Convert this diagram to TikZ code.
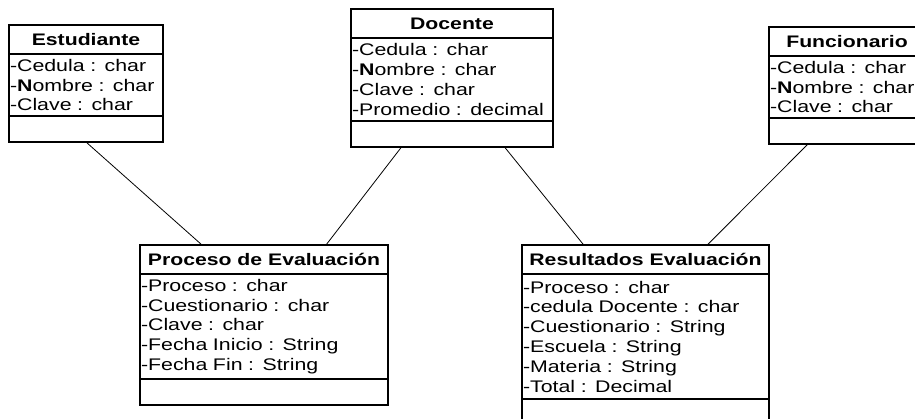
\documentclass[tikz,border=0pt]{standalone}
\usepackage{fontspec}
\setmainfont{Liberation Sans}[FakeStretch=1.27]
\usetikzlibrary{positioning,calc}

\tikzset{
  box/.style={draw, line width=1.3pt, outer sep=0pt, inner sep=1pt},
  classname/.style={box, minimum height=29pt, font=\fontsize{16.7}{19}\selectfont\bfseries},
  attrs/.style={box, align=left, font=\fontsize{16.8}{19.8}\selectfont},
  ops/.style={box, minimum height=26pt},
  link/.style={line width=0.8pt}
}

\begin{document}
\begin{tikzpicture}[x=1pt,y=-1pt]
  \clip (0,0) rectangle (915,418);

  % Estudiante
  \node[classname, minimum width=154pt, anchor=north west] (est) at (9,25) {Estudiante};
  \node[attrs, text width=152pt, minimum height=62pt, below=0pt of est] (est-a)
    {-Cedula : char\\-\textbf{N}ombre : char\\-Clave : char};
  \node[ops, minimum width=154pt, below=0pt of est-a] (est-o) {};

  % Docente
  \node[classname, minimum width=202pt, anchor=north west] (doc) at (351,9) {Docente};
  \node[attrs, text width=200pt, minimum height=83pt, below=0pt of doc] (doc-a)
    {-Cedula : char\\-\textbf{N}ombre : char\\-Clave : char\\-Promedio : decimal};
  \node[ops, minimum width=202pt, below=0pt of doc-a] (doc-o) {};

  % Funcionario
  \node[classname, minimum width=156pt, anchor=north west] (fun) at (769,27) {Funcionario};
  \node[attrs, text width=154pt, minimum height=62pt, below=0pt of fun] (fun-a)
    {-Cedula : char\\-\textbf{N}ombre : char\\-Clave : char};
  \node[ops, minimum width=156pt, below=0pt of fun-a] (fun-o) {};

  % Proceso de Evaluacion
  \node[classname, minimum width=248pt, anchor=north west] (proc) at (140,245) {Proceso de Evaluación};
  \node[attrs, text width=246pt, minimum height=105pt, below=0pt of proc] (proc-a)
    {-Proceso : char\\-Cuestionario : char\\-Clave : char\\-Fecha Inicio : String\\-Fecha Fin : String};
  \node[ops, minimum width=248pt, below=0pt of proc-a] (proc-o) {};

  % Resultados Evaluacion
  \node[classname, minimum width=247pt, anchor=north west] (res) at (522,245) {Resultados Evaluación};
  \node[attrs, text width=245pt, minimum height=125pt, below=0pt of res] (res-a)
    {-Proceso : char\\-cedula Docente : char\\-Cuestionario : String\\-Escuela : String\\-Materia : String\\-Total : Decimal};
  \node[ops, minimum width=247pt, below=0pt of res-a] (res-o) {};

  % associations
  \draw[link] (est-o.south) -- ($(proc.north west)!0.25!(proc.north east)$);
  \draw[link] ($(doc-o.south west)!0.25!(doc-o.south east)$) -- ($(proc.north west)!0.75!(proc.north east)$);
  \draw[link] ($(doc-o.south west)!0.76!(doc-o.south east)$) -- ($(res.north west)!0.25!(res.north east)$);
  \draw[link] ($(fun-o.south west)!0.25!(fun-o.south east)$) -- ($(res.north west)!0.75!(res.north east)$);
\end{tikzpicture}
\end{document}
